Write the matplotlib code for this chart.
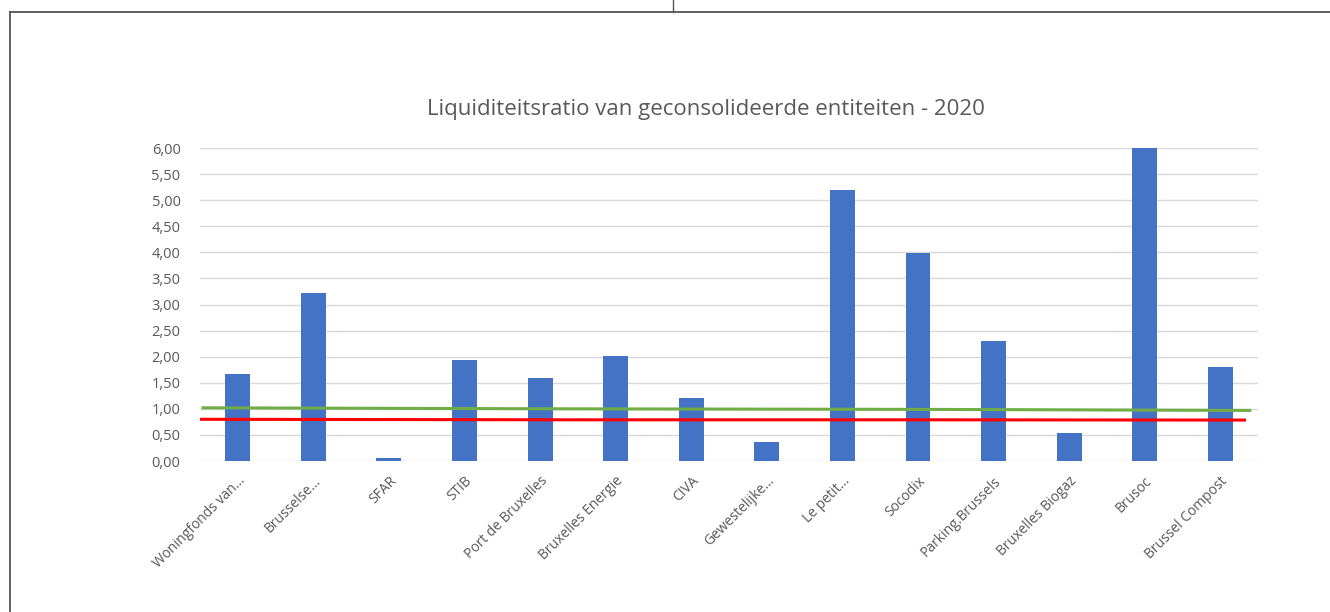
import matplotlib
matplotlib.use('Agg')
import matplotlib.pyplot as plt
from matplotlib.lines import Line2D
from matplotlib.ticker import FuncFormatter

# Data
entities = ['Woningfonds van...', 'Brusselse...', 'SFAR', 'STIB', 'Port de Bruxelles',
            'Bruxelles Energie', 'CIVA', 'Gewestelijke...', 'Le petit...', 'Socodix',
            'Parking.Brussels', 'Bruxelles Biogaz', 'Brusoc', 'Brussel Compost']
ratio = [1.67, 3.22, 0.05, 1.93, 1.59, 2.01, 1.21, 0.37, 5.19, 3.98, 2.30, 0.53, 6.00, 1.80]

# reference lines (hand drawn, slightly sloped)
green_x = [-0.46, 4.5, 9.0, 13.39]
green_y = [1.02, 1.00, 0.99, 0.97]
red_x = [-0.5, 4.5, 9.0, 13.32]
red_y = [0.80, 0.79, 0.79, 0.785]

title = 'Liquiditeitsratio van geconsolideerde entiteiten - 2020'

plt.rcParams['font.family'] = ['Open Sans', 'DejaVu Sans']
text_col = '#595959'

fig = plt.figure(figsize=(13.3, 6.12), dpi=100)
ax = fig.add_axes([0.1504, 0.2467, 0.7955, 0.5114])

x = list(range(len(entities)))
ax.bar(x, ratio, width=0.33, color='#4472C4', zorder=2)
ax.plot(green_x, green_y, color='#70AD47', linewidth=2.2, zorder=3)
ax.plot(red_x, red_y, color='#FF0000', linewidth=2.2, zorder=3)

ax.set_xlim(-0.5, len(entities) - 0.5)
ax.set_ylim(0, 6)
ax.set_yticks([i * 0.5 for i in range(13)])
ax.yaxis.set_major_formatter(FuncFormatter(lambda v, p: f'{v:.2f}'.replace('.', ',')))
ax.grid(axis='y', color='#D9D9D9', linewidth=1, zorder=0)
ax.set_axisbelow(True)
for s in ax.spines.values():
    s.set_visible(False)

ax.set_xticks(x)
ax.set_xticklabels(entities, rotation=45, ha='right', rotation_mode='anchor')
ax.tick_params(axis='both', length=0, colors=text_col, labelsize=10.5)
ax.tick_params(axis='x', pad=9, labelsize=10)
ax.tick_params(axis='y', pad=14)

fig.text(0.531, 0.821, title, ha='center', va='center', fontsize=16, color=text_col)

# frame around the chart area
W, H = 1330, 612
fc = '#555555'
fig.add_artist(Line2D([10 / W, 10 / W], [0, 1 - 12 / H], color=fc, linewidth=1.3))
fig.add_artist(Line2D([10 / W, 1], [1 - 12 / H, 1 - 12 / H], color=fc, linewidth=1.3))
fig.add_artist(Line2D([673 / W, 673 / W], [1 - 12 / H, 1], color=fc, linewidth=1.0))

fig.savefig('out.png', dpi=100)
